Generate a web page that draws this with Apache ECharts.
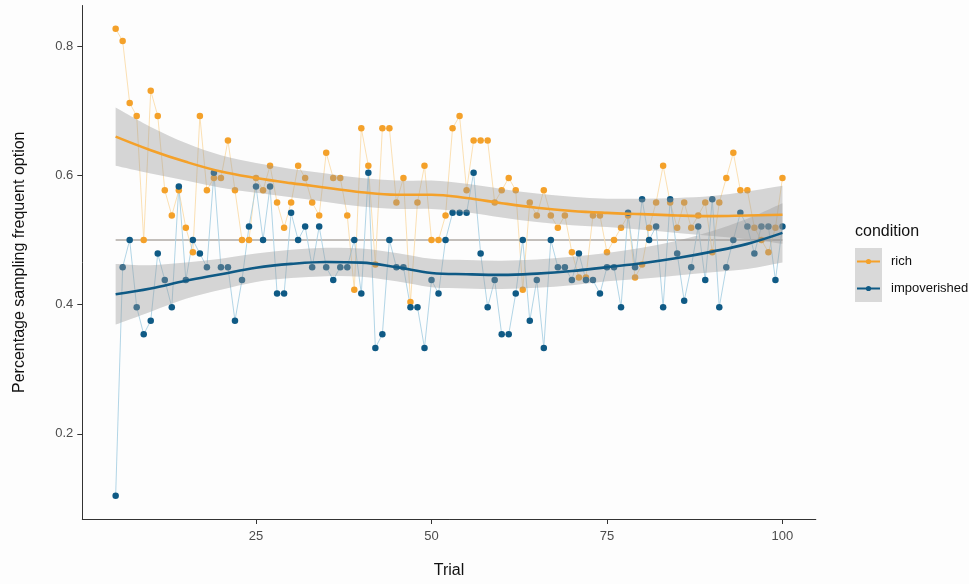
<!DOCTYPE html>
<html>
<head>
<meta charset="utf-8">
<script src="https://cdn.jsdelivr.net/npm/echarts@6/dist/echarts.min.js"></script>
<style>
  html, body { margin: 0; padding: 0; background: #fdfdfd; }
  #chart { width: 969px; height: 584px; }
</style>
</head>
<body>
<div id="chart"></div>
<script>
// Trial numbers (one observation per trial and condition)
const trials = [5,6,7,8,9,10,11,12,13,14,15,16,17,18,19,20,21,22,23,24,25,26,27,28,29,30,
  31,32,33,34,35,36,37,38,39,40,41,42,43,44,45,46,47,48,49,50,51,52,53,54,55,56,57,58,59,60,
  61,62,63,64,65,66,67,68,69,70,71,72,73,74,75,76,77,78,79,80,81,82,83,84,85,86,87,88,89,90,
  91,92,93,94,95,96,97,98,99,100];

// Proportion choosing the frequent option, rich condition
const rich = [0.827,0.808,0.712,0.692,0.5,0.731,0.692,0.577,0.538,0.577,0.519,0.481,0.692,0.577,0.596,0.596,
  0.654,0.577,0.5,0.5,0.596,0.577,0.615,0.558,0.519,0.558,0.615,0.596,0.558,0.538,0.635,0.596,0.596,0.538,
  0.423,0.673,0.615,0.462,0.673,0.673,0.558,0.596,0.404,0.558,0.615,0.5,0.5,0.538,0.673,0.692,0.577,0.654,
  0.654,0.654,0.558,0.577,0.596,0.577,0.423,0.558,0.538,0.577,0.538,0.519,0.538,0.481,0.442,0.442,0.538,
  0.538,0.481,0.5,0.519,0.538,0.442,0.462,0.519,0.558,0.615,0.558,0.519,0.558,0.519,0.538,0.558,0.481,
  0.558,0.596,0.635,0.577,0.577,0.519,0.5,0.481,0.519,0.596];

// Proportion choosing the frequent option, impoverished condition
const impoverished = [0.104,0.458,0.5,0.396,0.354,0.375,0.479,0.438,0.396,0.583,0.438,0.5,0.479,0.458,0.604,
  0.458,0.458,0.375,0.438,0.521,0.583,0.5,0.583,0.417,0.417,0.542,0.5,0.521,0.458,0.521,0.458,0.438,0.458,
  0.458,0.5,0.417,0.604,0.333,0.354,0.5,0.458,0.458,0.396,0.396,0.333,0.438,0.417,0.5,0.542,0.542,0.542,
  0.604,0.479,0.396,0.438,0.354,0.354,0.417,0.5,0.375,0.438,0.333,0.5,0.458,0.458,0.438,0.479,0.438,0.438,
  0.417,0.458,0.458,0.396,0.542,0.458,0.563,0.5,0.521,0.396,0.563,0.479,0.406,0.458,0.521,0.438,0.563,
  0.396,0.458,0.5,0.542,0.521,0.479,0.521,0.521,0.438,0.521];

// Smoothed trend with 95% band for each condition
const smoothTrials = [5,10,15,20,25,30,35,40,45,50,55,60,65,70,75,80,85,90,95,100];
const richFit  = [0.660,0.639,0.621,0.606,0.596,0.588,0.581,0.574,0.570,0.570,0.565,0.557,0.550,0.545,0.542,0.540,0.538,0.537,0.538,0.539];
const richLow  = [0.615,0.603,0.592,0.581,0.573,0.566,0.559,0.552,0.548,0.548,0.543,0.535,0.528,0.523,0.520,0.516,0.511,0.506,0.501,0.494];
const richHigh = [0.705,0.675,0.650,0.631,0.619,0.610,0.603,0.596,0.592,0.592,0.587,0.579,0.572,0.567,0.564,0.564,0.565,0.568,0.575,0.584];
const poorFit  = [0.416,0.425,0.437,0.447,0.457,0.463,0.466,0.465,0.458,0.449,0.447,0.446,0.448,0.452,0.458,0.464,0.472,0.482,0.494,0.511];
const poorLow  = [0.369,0.389,0.409,0.423,0.435,0.441,0.444,0.443,0.436,0.427,0.425,0.424,0.426,0.430,0.436,0.440,0.445,0.450,0.455,0.465];
const poorHigh = [0.463,0.461,0.465,0.471,0.479,0.485,0.488,0.487,0.480,0.471,0.469,0.468,0.470,0.474,0.480,0.488,0.499,0.514,0.533,0.557];

const chanceLevel = 0.5;
const xTicks = [25, 50, 75, 100];
const yTicks = [0.2, 0.4, 0.6, 0.8];

const ORANGE = '#f4a12a';
const BLUE = '#0f5a85';
const FONT = '"Liberation Sans", Arial, sans-serif';

const pairs = (xs, ys) => xs.map((x, i) => [x, ys[i]]);

// Catmull-Rom segments through pixel points, as SVG path commands
function curveThrough(pts) {
  let d = '';
  for (let i = 0; i < pts.length - 1; i++) {
    const p0 = pts[i - 1] || pts[i], p1 = pts[i], p2 = pts[i + 1], p3 = pts[i + 2] || pts[i + 1];
    const c1x = p1[0] + (p2[0] - p0[0]) / 6, c1y = p1[1] + (p2[1] - p0[1]) / 6;
    const c2x = p2[0] - (p3[0] - p1[0]) / 6, c2y = p2[1] - (p3[1] - p1[1]) / 6;
    d += ' C' + c1x + ',' + c1y + ' ' + c2x + ',' + c2y + ' ' + p2[0] + ',' + p2[1];
  }
  return d;
}

// Confidence band drawn as one filled region between its lower and upper curves
function bandSeries(lo, hi) {
  return {
    type: 'custom', z: 4, silent: true, clip: true,
    data: [[smoothTrials[0], lo[0]]],
    renderItem: function (params, api) {
      const up = smoothTrials.map((t, i) => api.coord([t, hi[i]]));
      const dn = smoothTrials.map((t, i) => api.coord([t, lo[i]])).reverse();
      const d = 'M' + up[0][0] + ',' + up[0][1] + curveThrough(up) +
                ' L' + dn[0][0] + ',' + dn[0][1] + curveThrough(dn) + ' Z';
      return { type: 'path', shape: { pathData: d }, style: { fill: 'rgba(153,153,153,0.4)' } };
    }
  };
}

function rawSeries(values, dotColor, lineColor) {
  return { type: 'line', data: pairs(trials, values), symbol: 'circle', symbolSize: 6.5,
    showAllSymbol: true, z: 3, silent: true,
    lineStyle: { color: lineColor, width: 0.9 },
    itemStyle: { color: dotColor } };
}

function fitSeries(values, color) {
  return { type: 'line', data: pairs(smoothTrials, values), symbol: 'none', smooth: 0.4,
    z: 5, silent: true, lineStyle: { color: color, width: 2.6 } };
}

const chart = echarts.init(document.getElementById('chart'), null, { renderer: 'canvas' });

const axisCommon = {
  axisLine: { show: true, onZero: false, lineStyle: { color: '#333333', width: 1 } },
  splitLine: { show: false },
  nameTextStyle: { fontSize: 16, color: '#111111', fontFamily: FONT }
};

chart.setOption({
  animation: false,
  backgroundColor: '#fdfdfd',
  grid: { left: 82.3, right: 153.2, top: 5.5, bottom: 61.8 },
  xAxis: Object.assign({}, axisCommon, {
    type: 'value', min: 0.25, max: 104.75,
    name: 'Trial', nameLocation: 'middle', nameGap: 44,
    axisTick: { show: true, length: 5, customValues: xTicks, lineStyle: { color: '#333333' } },
    axisLabel: { customValues: xTicks, fontSize: 13, color: '#4d4d4d', margin: 11, fontFamily: FONT }
  }),
  yAxis: Object.assign({}, axisCommon, {
    type: 'value', min: 0.0681, max: 0.863,
    name: 'Percentage sampling frequent option', nameLocation: 'middle', nameGap: 55,
    axisTick: { show: true, length: 5, customValues: yTicks, lineStyle: { color: '#333333' } },
    axisLabel: { customValues: yTicks, fontSize: 13, color: '#4d4d4d', margin: 9, fontFamily: FONT,
      formatter: v => v.toFixed(1) }
  }),
  series: [
    { type: 'line', data: [[trials[0], chanceLevel], [trials[trials.length - 1], chanceLevel]],
      symbol: 'none', z: 2, silent: true, lineStyle: { color: '#8a817b', width: 1.1 } },
    rawSeries(rich, ORANGE, '#fbdcaa'),
    rawSeries(impoverished, BLUE, '#a9d0e3'),
    bandSeries(richLow, richHigh),
    bandSeries(poorLow, poorHigh),
    fitSeries(richFit, ORANGE),
    fitSeries(poorFit, BLUE)
  ],
  graphic: [
    { type: 'text', x: 855, y: 232, style: { text: 'condition', font: '16px ' + FONT, fill: '#111111', verticalAlign: 'middle' } },
    { type: 'rect', shape: { x: 855, y: 248, width: 27, height: 54 }, style: { fill: '#d9d9d9' } },
    { type: 'line', shape: { x1: 857, y1: 261.5, x2: 880, y2: 261.5 }, style: { stroke: ORANGE, lineWidth: 2 } },
    { type: 'circle', shape: { cx: 868.5, cy: 261.5, r: 2.6 }, style: { fill: ORANGE } },
    { type: 'line', shape: { x1: 857, y1: 288.5, x2: 880, y2: 288.5 }, style: { stroke: BLUE, lineWidth: 2 } },
    { type: 'circle', shape: { cx: 868.5, cy: 288.5, r: 2.6 }, style: { fill: BLUE } },
    { type: 'text', x: 891, y: 261.5, style: { text: 'rich', font: '13px ' + FONT, fill: '#111111', verticalAlign: 'middle' } },
    { type: 'text', x: 891, y: 288.5, style: { text: 'impoverished', font: '13px ' + FONT, fill: '#111111', verticalAlign: 'middle' } }
  ]
});
</script>
</body>
</html>
